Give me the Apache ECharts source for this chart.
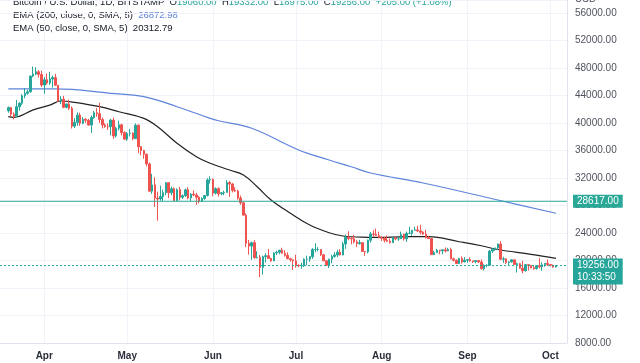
<!DOCTYPE html>
<html><head><meta charset="utf-8">
<script src="https://cdn.jsdelivr.net/npm/echarts@6/dist/echarts.min.js"></script>
<style>html,body{margin:0;padding:0;background:#fff}#c{width:640px;height:363px}</style>
</head><body><div id="c"></div><script>
// ---- axis / categories ----
const axisStart = '2022-03-16';
const axisDays = 206;
const candleStart = '2022-03-19';
const monthNames = ['Jan','Feb','Mar','Apr','May','Jun','Jul','Aug','Sep','Oct','Nov','Dec'];
const yTickValues = [8000,12000,16000,20000,24000,28000,32000,36000,40000,44000,48000,52000,56000];

// ---- daily candles (Mar 19 .. Oct 3, 2022) ----
const opens = [
41770,42240,41270,41000,42370,42890,43960,44330,44540,46820,47130,47450,47070,
45520,46290,45820,46400,46610,45500,43200,43460,42280,42770,42160,39540,40090,41150,39960,40550,40400,39700,40800,41500,41360,40500,39710,39470,39450,40430,38120,39240,39740,38600,
37650,38470,38520,37730,39690,36550,36000,35470,34050,30080,31000,29080,28950,29300,29860,31320,29850,30430,28700,30300,29200,29430,30280,29100,29650,29540,29200,28600,29020,29450,31720,
31790,29800,30450,29700,29850,29900,31350,31120,30200,30100,29100,28400,26600,22500,22100,22600,20400,20450,19000,20550,20700,20300,19950,21100,21200,21500,21050,20750,20250,20100,
19950,19300,19250,19300,20200,20200,20550,21600,21600,21600,20850,19950,19300,20200,20600,20800,21200,20800,22400,23400,23200,23150,22700,22450,22600,21300,21250,22950,23850,23800,23650,
23300,23250,22950,22800,22600,23300,23150,23150,23800,23150,23950,23950,24400,24450,24300,24100,23850,23350,23200,20850,21150,21500,21400,21550,21400,21600,20250,20050,19550,20300,19800,
20050,20130,19950,19830,20000,19800,18800,19300,19320,21370,21650,21830,22400,20180,20230,19700,19800,20100,19420,19540,18880,18500,19400,19300,18930,18800,19230,19080,19400,19590,
19420,19310,19060];
const highs = [
42400,42300,41550,43350,43000,44200,45100,44800,46900,48200,48100,47700,47600,
46700,47200,47450,46900,47150,45500,43900,43950,42800,43400,42400,40700,41550,41500,40850,40700,40600,41100,41750,42150,42950,40800,39950,39950,40600,40800,39450,40350,39900,38800,
38700,39150,38650,39950,39800,36650,36100,35500,34250,32600,32100,30000,30900,30300,31350,31320,30750,30650,30500,30700,29600,30450,30650,29800,30200,29850,29350,29200,29500,31950,32250,
31950,30650,30650,29950,30150,31700,31550,31300,30650,30300,29450,28550,26850,23000,22750,22950,21350,20800,20700,21050,21700,20400,21200,21450,21550,21850,21500,21200,20400,20150,
20850,19450,19650,20300,20700,20650,21800,22500,21950,21600,20850,20050,20250,20850,21200,21550,21650,22700,23750,24250,23400,23750,23000,23000,22650,21350,23050,24150,24400,24650,24200,
23500,23450,23650,23200,23450,23350,23450,24200,23900,24200,24900,24450,24900,25050,25200,24250,24450,23600,23200,21400,21700,21550,21650,21900,21850,21850,20400,20150,20400,20600,20500,
20200,20450,19950,20000,20050,20150,19450,19450,21500,21800,21850,22450,22800,20550,20350,19900,20200,20100,19700,19650,19950,19500,19500,19300,19200,19300,20350,19750,19650,20150,
19480,19400,19332];
const lows = [
41500,40950,40520,40900,41800,42600,43600,44100,44400,46650,46950,46600,45250,
44250,45600,45550,45150,45400,43100,42750,42150,42130,41900,39200,39250,39600,39600,39800,40000,39600,38550,40600,40900,40000,39200,39300,39000,38200,37700,37900,38900,38200,37600,
37400,38050,37500,37700,35600,35300,34800,33700,30000,29700,27800,25800,28700,28600,29500,29100,29500,28700,28650,28750,28950,29250,28900,28650,29350,28100,28300,28550,28850,29300,31200,
29350,29600,29300,29500,29500,29900,29250,29900,29950,28850,28100,26550,21950,20850,20100,20250,20300,17600,17950,19700,20350,19800,19900,20800,20900,21000,20550,20200,19850,18650,
18950,19000,18800,19050,19300,19800,20250,21200,21350,20650,19900,19250,18900,19600,20400,20500,20750,20750,21700,22950,22350,22500,21950,22300,21300,20700,21050,22600,23450,23550,23250,
22850,22650,22700,22450,22600,22950,22850,23150,22900,22700,23900,23600,24350,24150,23800,23700,23200,23100,20800,20800,21100,20900,20900,21150,21350,20150,19850,19500,19500,19550,19750,
19650,19800,19650,19600,19650,18700,18550,19000,19300,21100,21400,21550,20050,19650,19500,19350,19700,19350,18250,18800,18150,18400,18550,18850,18650,18700,18850,18500,19100,19200,
19150,18950,18975];
const closes = [
42240,41270,41000,42370,42890,43960,44330,44540,46820,47130,47450,47070,45520,
46290,45820,46400,46610,45500,43200,43460,42280,42770,42160,39540,40090,41150,39960,40550,40400,39700,40800,41500,41360,40500,39710,39470,39450,40430,38120,39240,39740,38600,37650,
38470,38520,37730,39690,36550,36000,35470,34050,30080,31000,29080,28950,29300,29860,31320,29850,30430,28700,30300,29200,29430,30280,29100,29650,29540,29200,28600,29020,29450,31720,31790,
29800,30450,29700,29850,29900,31350,31120,30200,30100,29100,28400,26600,22500,22100,22600,20400,20450,19000,20550,20700,20300,19950,21100,21200,21500,21050,20750,20250,20100,19950,
19300,19250,19300,20200,20200,20550,21600,21600,21600,20850,19950,19300,20200,20600,20800,21200,20800,22400,23400,23200,23150,22700,22450,22600,21300,21250,22950,23850,23800,23650,23300,
23250,22950,22800,22600,23300,23150,23150,23800,23150,23950,23950,24400,24450,24300,24100,23850,23350,23200,20850,21150,21500,21400,21550,21400,21600,20250,20050,19550,20300,19800,20050,
20130,19950,19830,20000,19800,18800,19300,19320,21370,21650,21830,22400,20180,20230,19700,19800,20100,19420,19540,18880,18500,19400,19300,18930,18800,19230,19080,19400,19590,19420,
19310,19051,19256];

// ---- EMA lines ----
const ema200Dates = ['2022-03-19','2022-04-05','2022-04-25','2022-05-07','2022-05-19','2022-05-31','2022-06-03','2022-06-15','2022-07-02','2022-07-13','2022-07-21','2022-07-28','2022-08-16','2022-09-12','2022-10-03'];
const ema200 = [44950,44950,44320,43830,42370,40680,40330,39230,36070,34620,33640,32730,31270,28800,26872.98];
const ema50Dates = ['2022-03-19','2022-03-21','2022-03-28','2022-04-03','2022-04-07','2022-04-12','2022-04-21','2022-04-28','2022-05-07','2022-05-12','2022-05-19','2022-05-26','2022-05-31','2022-06-07','2022-06-12','2022-06-17','2022-06-22','2022-06-29','2022-07-06','2022-07-13','2022-07-18','2022-07-27','2022-07-31','2022-08-10','2022-08-18','2022-08-29','2022-09-06','2022-09-12','2022-09-24','2022-10-03'];
const ema50 = [40920,40830,41900,42600,43200,43000,42370,41640,40680,39460,37050,35100,34140,33160,32440,30730,28800,26870,25160,24040,23560,23370,23350,23460,23460,22730,22150,21600,20900,20312.79];

const hLineValue = 28617;
const countdown = '10:33:50';

// ---- build ----
function addDays(s, n){const d=new Date(s+'T00:00:00Z');d.setUTCDate(d.getUTCDate()+n);return d.toISOString().slice(0,10);}
const cats = [];
for(let i=0;i<axisDays;i++) cats.push(addDays(axisStart,i));
const startIdx = cats.indexOf(candleStart);
const candleData = cats.map(()=>['-','-','-','-']);
for(let i=0;i<opens.length;i++) candleData[startIdx+i] = [opens[i], closes[i], lows[i], highs[i]];

const n = closes.length;
const lastO = opens[n-1], lastH = highs[n-1], lastL = lows[n-1], lastC = closes[n-1], prevC = closes[n-2];
const chg = lastC - prevC, pct = chg/prevC*100;
const GREEN = '#26a69a', RED = '#ef5350';
const FONT = '"Liberation Sans", Arial, sans-serif';
const isFirst = (i, v) => v.slice(8) === '01';

function levelSeries(value, color, type, text, extraLabel){
  return {type:'line', silent:true, z:5, showSymbol:false, symbol:'none',
    data:[[cats[0], value],[cats[cats.length-1], value]],
    lineStyle:{color:color,type:type,width:1},
    itemStyle:{color:color},
    endLabel:Object.assign({show:true,distance:6,formatter:()=>text,backgroundColor:color,color:'#fff',fontSize:10,padding:[2,4,1,4],fontFamily:FONT}, extraLabel||{})};
}

const chart = echarts.init(document.getElementById('c'), null, {renderer:'canvas'});
chart.setOption({
  animation:false,
  backgroundColor:'#fff',
  textStyle:{fontFamily:FONT},
  grid:{left:0,right:73,top:0,bottom:20,containLabel:false},
  xAxis:{
    type:'category', data:cats, boundaryGap:false,
    axisLine:{show:true,lineStyle:{color:'#e0e3eb'}},
    axisTick:{show:false},
    axisLabel:{interval:isFirst, formatter:v=>monthNames[+v.slice(5,7)-1], fontSize:10, fontWeight:'bold', color:'#2a2e39', margin:8, fontFamily:FONT},
    splitLine:{show:true, interval:isFirst, lineStyle:{color:'#f0f3fa',width:1}}
  },
  yAxis:{
    type:'value', position:'right', min:yTickValues[0], max:57891, interval:4000, scale:false,
    axisLine:{show:true,lineStyle:{color:'#e0e3eb'}},
    axisTick:{show:false},
    axisLabel:{showMaxLabel:false, formatter:v=>yTickValues.includes(v)?v.toFixed(2):'', fontSize:10, color:'#50535e', margin:8, fontFamily:FONT},
    splitLine:{show:true,lineStyle:{color:'#f0f3fa',width:1}}
  },
  series:[
    {type:'line', name:'EMA200', data:ema200Dates.map((d,i)=>[d,ema200[i]]), smooth:0.4, showSymbol:false, lineStyle:{color:'#5f84db',width:1.2}, z:3},
    {type:'line', name:'EMA50', data:ema50Dates.map((d,i)=>[d,ema50[i]]), smooth:0.4, showSymbol:false, lineStyle:{color:'#222',width:1.2}, z:3},
    {type:'candlestick', data:candleData, barWidth:2, z:4,
      itemStyle:{color:GREEN,color0:RED,borderColor:GREEN,borderColor0:RED,borderWidth:1}},
    levelSeries(hLineValue, '#2aa897', 'solid', hLineValue.toFixed(2)),
    levelSeries(lastC, GREEN, [2,2], lastC.toFixed(2)+'\n'+countdown, {lineHeight:12, padding:[1,4,1,4], offset:[0,6]})
  ],
  graphic:[
    {type:'text', left:575, top:-6, style:{text:'USD', font:'10px '+FONT, fill:'#50535e'}},
    {type:'text', x:13, y:2, style:{
      text:'{d|Bitcoin / U.S. Dollar, 1D, BITSTAMP}  {d|O}{g|'+lastO.toFixed(2)+'}  {d|H}{g|'+lastH.toFixed(2)+'}  {d|L}{g|'+lastL.toFixed(2)+'}  {d|C}{g|'+lastC.toFixed(2)+'}  {g|'+(chg>=0?'+':'')+chg.toFixed(2)+' ('+(chg>=0?'+':'')+pct.toFixed(2)+'%)}',
      verticalAlign:'middle', font:'9.5px '+FONT,
      rich:{d:{fill:'#131722',font:'9.5px '+FONT},g:{fill:GREEN,font:'9.5px '+FONT}}}},
    {type:'text', x:13, y:15, style:{
      text:'{d|EMA (200, close, 0, SMA, 5)}  {b|'+ema200[ema200.length-1].toFixed(2)+'}',
      verticalAlign:'middle', font:'9.5px '+FONT,
      rich:{d:{fill:'#131722',font:'9.5px '+FONT},b:{fill:'#5f84db',font:'9.5px '+FONT}}}},
    {type:'text', x:13, y:28, style:{
      text:'{d|EMA (50, close, 0, SMA, 5)}  {k|'+ema50[ema50.length-1].toFixed(2)+'}',
      verticalAlign:'middle', font:'9.5px '+FONT,
      rich:{d:{fill:'#131722',font:'9.5px '+FONT},k:{fill:'#131722',font:'9.5px '+FONT}}}}
  ]
});
</script></body></html>
